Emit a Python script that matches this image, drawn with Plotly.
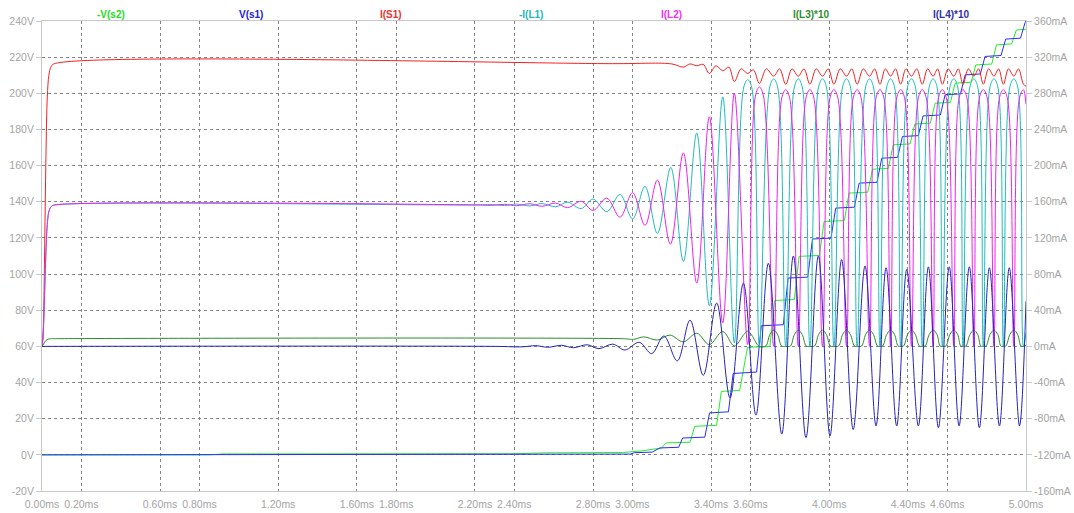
import plotly.graph_objects as go

# ---------------- axis ticks ----------------
time_ticks = [0.0, 0.2, 0.6, 0.8, 1.2, 1.6, 1.8, 2.2, 2.4, 2.8, 3.0, 3.4, 3.6, 4.0, 4.4, 4.6, 5.0]
time_labels = ["%.2fms" % v for v in time_ticks]
volt_ticks = list(range(-20, 241, 20))
volt_labels = ["%dV" % v for v in volt_ticks]
amp_ticks = list(range(-160, 361, 40))
amp_labels = ["%dmA" % v for v in amp_ticks]

series_names = ["-V(s2)", "V(s1)", "I(S1)", "-I(L1)", "I(L2)", "I(L3)*10", "I(L4)*10"]

# ---------------- data (time ms, value) ----------------
# -V(s2)  [V]
v_s2 = [(0, 0), (0.85, 0), (0.92, 0.5), (2.40, 0.6), (2.55, 1.1), (2.95, 1.3), (3.05, 2.2), (3.12, 3.4),
        (3.148, 3.8), (3.172, 6.6), (3.293, 7.0), (3.317, 15.8), (3.428, 16.3), (3.452, 35.1), (3.545, 35.6),
        (3.585, 59.5), (3.699, 60.0), (3.723, 85.4), (3.823, 85.9), (3.847, 109.8), (3.950, 110.3),
        (3.974, 129.1), (4.077, 129.6), (4.101, 144.8), (4.196, 145.3), (4.220, 158.0), (4.301, 158.5),
        (4.325, 171.5), (4.411, 172.0), (4.435, 183.0), (4.514, 183.5), (4.538, 194.5), (4.616, 195.0),
        (4.640, 205.6), (4.721, 206.1), (4.745, 215.7), (4.826, 216.2), (4.850, 226.8), (4.927, 227.3),
        (4.951, 235.0), (5.0, 235.5)]

# V(s1)  [V]
v_s1 = [(0, 0), (2.95, 0.2), (2.99, 0.4), (3.01, 1.2), (3.10, 1.5), (3.14, 3.8), (3.235, 4.2), (3.255, 9.3),
        (3.368, 9.8), (3.392, 23.2), (3.488, 23.8), (3.512, 45.0), (3.631, 45.8), (3.655, 71.4), (3.767, 72.0),
        (3.791, 97.8), (3.891, 98.3), (3.915, 119.4), (4.009, 119.9), (4.033, 136.5), (4.128, 137.0),
        (4.152, 150.3), (4.243, 150.8), (4.267, 164.1), (4.348, 164.6), (4.372, 176.1), (4.453, 176.6),
        (4.477, 187.5), (4.565, 188.0), (4.589, 199.2), (4.667, 199.7), (4.691, 210.2), (4.768, 210.7),
        (4.792, 220.4), (4.873, 220.9), (4.897, 230.0), (4.972, 230.5), (4.995, 239.0), (5.0, 240.0)]

# I(S1)  [mA]
i_s1 = [(0, 0), (0.004, 6), (0.008, 30), (0.013, 100), (0.020, 210), (0.027, 276), (0.035, 300), (0.045, 309),
        (0.060, 312.5), (2.90, 312.8), (3.20, 312.5), (3.259, 309), (3.293, 312.5), (3.327, 310.5), (3.36, 312),
        (3.391, 302), (3.425, 310.5), (3.459, 305), (3.49, 309), (3.518, 293), (3.552, 307), (3.586, 302),
        (3.615, 306), (3.645, 291), (3.681, 307), (3.718, 299), (3.748, 307), (3.779, 290), (3.811, 307),
        (3.843, 299), (3.872, 307), (3.902, 290), (3.934, 307), (3.966, 299), (3.995, 307), (4.024, 290),
        (4.056, 307), (4.088, 299), (4.115, 307), (4.142, 290), (4.173, 307), (4.205, 299), (4.231, 307),
        (4.258, 290), (4.285, 307), (4.312, 299), (4.337, 307), (4.363, 290), (4.390, 307), (4.418, 299),
        (4.445, 307), (4.473, 290), (4.500, 307), (4.528, 299), (4.551, 307), (4.575, 290), (4.604, 307),
        (4.633, 299), (4.656, 307), (4.680, 290), (4.707, 307), (4.735, 299), (4.759, 307), (4.783, 290),
        (4.810, 307), (4.837, 299), (4.861, 307), (4.885, 290), (4.911, 307), (4.938, 299), (4.962, 307),
        (4.987, 290), (5.0, 288)]

# -I(L1)  [mA]
i_l1 = [(0, 0), (0.006, 15), (0.012, 50), (0.020, 105), (0.028, 138), (0.036, 150), (0.048, 155), (0.065, 156.5),
        (2.20, 156.5), (2.28, 157.0), (2.35, 155.8), (2.41, 157.4), (2.48, 155.4), (2.54, 158.0), (2.61, 154.5),
        (2.67, 159.5), (2.74, 152.5), (2.80, 163.0), (2.87, 149.0), (2.937, 168.0), (3.001, 141.0),
        (3.064, 177.0), (3.127, 125.0), (3.195, 198.0), (3.259, 94.0), (3.327, 236.0), (3.391, 45.0),
        (3.459, 276.0), (3.518, 4.0), (3.566, 287), (3.586, 295), (3.606, 287), (3.645, 0), (3.698, 287),
        (3.718, 296), (3.738, 287), (3.779, 0), (3.823, 287), (3.843, 296), (3.863, 287), (3.902, 0),
        (3.946, 287), (3.966, 296), (3.986, 287), (4.024, 0), (4.068, 287), (4.088, 296), (4.108, 287),
        (4.142, 0), (4.185, 287), (4.205, 296), (4.225, 287), (4.258, 0), (4.292, 287), (4.312, 296),
        (4.332, 287), (4.363, 0), (4.398, 287), (4.418, 296), (4.438, 287), (4.473, 0), (4.508, 287),
        (4.528, 296), (4.548, 287), (4.575, 0), (4.613, 287), (4.633, 296), (4.653, 287), (4.680, 0),
        (4.715, 287), (4.735, 296), (4.755, 287), (4.783, 0), (4.817, 287), (4.837, 296), (4.857, 287),
        (4.885, 0), (4.918, 287), (4.938, 296), (4.958, 287), (4.987, 0), (5.0, 15)]

# I(L2)  [mA]
i_l2 = [(0, 0), (0.006, 15), (0.012, 50), (0.020, 105), (0.028, 138), (0.036, 150), (0.048, 155), (0.065, 156.5),
        (2.20, 156.5), (2.28, 156.0), (2.35, 157.2), (2.41, 155.6), (2.48, 157.8), (2.54, 155.0), (2.61, 158.5),
        (2.67, 153.5), (2.74, 160.5), (2.80, 150.5), (2.87, 164.0), (2.937, 143.0), (3.001, 170.0),
        (3.064, 134.0), (3.127, 184.0), (3.193, 113.0), (3.259, 214.0), (3.327, 70.0), (3.391, 254.0),
        (3.459, 26.0), (3.518, 280.0), (3.586, 2.0), (3.625, 277), (3.645, 287), (3.665, 278), (3.718, 0),
        (3.759, 275), (3.779, 284), (3.799, 275), (3.843, 0), (3.882, 275), (3.902, 284), (3.922, 275),
        (3.966, 0), (4.004, 275), (4.024, 284), (4.044, 275), (4.088, 0), (4.122, 275), (4.142, 284),
        (4.162, 275), (4.205, 0), (4.238, 275), (4.258, 284), (4.278, 275), (4.312, 0), (4.343, 275),
        (4.363, 284), (4.383, 275), (4.418, 0), (4.453, 275), (4.473, 284), (4.493, 275), (4.528, 0),
        (4.555, 275), (4.575, 284), (4.595, 275), (4.633, 0), (4.660, 275), (4.680, 284), (4.700, 275),
        (4.735, 0), (4.763, 275), (4.783, 284), (4.803, 275), (4.837, 0), (4.865, 275), (4.885, 284),
        (4.905, 275), (4.938, 0), (4.967, 275), (4.987, 284), (5.0, 268)]

# I(L3)*10  [mA]
i_l3 = [(0, 0), (0.008, 2.5), (0.016, 5.5), (0.025, 7.5), (0.04, 8.4), (0.06, 8.5), (2.95, 8.5), (3.006, 7.8),
        (3.058, 10.5), (3.127, 7.0), (3.191, 12.5), (3.259, 5.0), (3.327, 14.5), (3.391, 2.0), (3.459, 16.5),
        (3.518, 0.5), (3.566, 13.0), (3.586, 17.0), (3.606, 12.5), (3.645, 0),
        (3.678, 0.5), (3.698, 13), (3.718, 18), (3.738, 13), (3.758, 0.5), (3.779, 0),
        (3.803, 0.5), (3.823, 13), (3.843, 18), (3.863, 13), (3.883, 0.5), (3.902, 0),
        (3.926, 0.5), (3.946, 13), (3.966, 18), (3.986, 13), (4.006, 0.5), (4.024, 0),
        (4.048, 0.5), (4.068, 13), (4.088, 18), (4.108, 13), (4.128, 0.5), (4.142, 0),
        (4.165, 0.5), (4.185, 13), (4.205, 18), (4.225, 13), (4.245, 0.5), (4.258, 0),
        (4.272, 0.5), (4.292, 13), (4.312, 18), (4.332, 13), (4.350, 0.5), (4.363, 0),
        (4.378, 0.5), (4.398, 13), (4.418, 18), (4.438, 13), (4.458, 0.5), (4.473, 0),
        (4.488, 0.5), (4.508, 13), (4.528, 18), (4.548, 13), (4.563, 0.5), (4.575, 0),
        (4.593, 0.5), (4.613, 13), (4.633, 18), (4.653, 13), (4.668, 0.5), (4.680, 0),
        (4.695, 0.5), (4.715, 13), (4.735, 18), (4.755, 13), (4.770, 0.5), (4.783, 0),
        (4.797, 0.5), (4.817, 13), (4.837, 18), (4.857, 13), (4.872, 0.5), (4.885, 0),
        (4.898, 0.5), (4.918, 13), (4.938, 18), (4.958, 13), (4.974, 0.5), (4.987, 0), (5.0, 1.0)]

# I(L4)*10  [mA]
i_l4 = [(0, 0), (2.30, 0), (2.44, -0.5), (2.51, 0.8), (2.57, -1.0), (2.64, 1.2), (2.70, -1.5), (2.77, 1.8),
        (2.83, -2.5), (2.90, 2.5), (2.962, -4), (3.035, 4.5), (3.098, -8), (3.160, 11.5), (3.228, -16),
        (3.293, 29), (3.360, -32), (3.428, 48), (3.496, -57), (3.564, 70), (3.628, -76), (3.691, 92),
        (3.759, -97), (3.818, 100), (3.882, -101), (3.945, 100), (4.004, -99), (4.063, 96), (4.122, -92),
        (4.182, 89), (4.238, -88), (4.289, 87), (4.343, -88), (4.394, 85), (4.453, -88), (4.504, 88),
        (4.555, -90), (4.610, 88), (4.660, -88), (4.712, 88), (4.763, -90), (4.814, 87), (4.865, -88),
        (4.915, 87), (4.967, -88), (5.0, 50)]

colors = ["#22ee22", "#2a2aff", "#f52020", "#1fbcbc", "#f020f0", "#2a8c2a", "#2424b8"]
label_colors = ["#22dd22", "#2020e0", "#f03030", "#22b8b8", "#f030f0", "#2f8f2f", "#3030a8"]

all_series = [v_s2, v_s1, i_s1, i_l1, i_l2, i_l3, i_l4]
axes_of = ["y", "y", "y2", "y2", "y2", "y2", "y2"]
shapes_of = ["linear", "linear", "spline", "spline", "spline", "spline", "spline"]

fig = go.Figure()
for name, data, col, ax, shp in zip(series_names, all_series, colors, axes_of, shapes_of):
    xs = [p[0] for p in data]
    ys = [p[1] for p in data]
    line = dict(color=col, width=1, shape=shp)
    if shp == "spline":
        line["smoothing"] = 1.0
    fig.add_trace(go.Scatter(x=xs, y=ys, mode="lines", name=name, yaxis=ax, line=line,
                             showlegend=False, hoverinfo="skip"))

tickfont = dict(family="Liberation Sans, Arial, sans-serif", size=10.5, color="#a4a4a4")
frame = "#c8c8c8"
grid = "#858585"

fig.update_layout(
    width=1074, height=513,
    margin=dict(l=42, r=48, t=21, b=22, autoexpand=False),
    paper_bgcolor="white", plot_bgcolor="white",
    xaxis=dict(range=[0, 5], tickvals=time_ticks, ticktext=time_labels, showgrid=True,
               gridcolor=grid, griddash="3px,3px", gridwidth=1, zeroline=False,
               showline=True, linecolor=frame, linewidth=1, mirror=True, ticks="",
               tickfont=tickfont, ticklabelstandoff=3, automargin=False),
    yaxis=dict(range=[-20, 240], tickvals=volt_ticks, ticktext=volt_labels, showgrid=True,
               gridcolor=grid, griddash="3px,3px", gridwidth=1, zeroline=False,
               showline=True, linecolor=frame, linewidth=1, mirror=True, ticks="outside",
               ticklen=5, tickcolor=frame, tickfont=tickfont, automargin=False),
    yaxis2=dict(range=[-160, 360], tickvals=amp_ticks, ticktext=amp_labels, overlaying="y",
                side="right", showgrid=False, zeroline=False, showline=True, linecolor=frame,
                linewidth=1, ticks="outside", ticklen=5, tickcolor=frame, tickfont=tickfont,
                automargin=False),
)

label_px = [111, 251, 391, 531, 671, 811, 951]
for name, col, px in zip(series_names, label_colors, label_px):
    fig.add_annotation(x=(px - 42) / 984, y=1 - (14 - 21) / 470, xref="paper", yref="paper",
                       text="<b>%s</b>" % name, showarrow=False, xanchor="center", yanchor="middle",
                       font=dict(family="Liberation Sans, Arial, sans-serif", size=10, color=col))

fig.write_html("out.html")
